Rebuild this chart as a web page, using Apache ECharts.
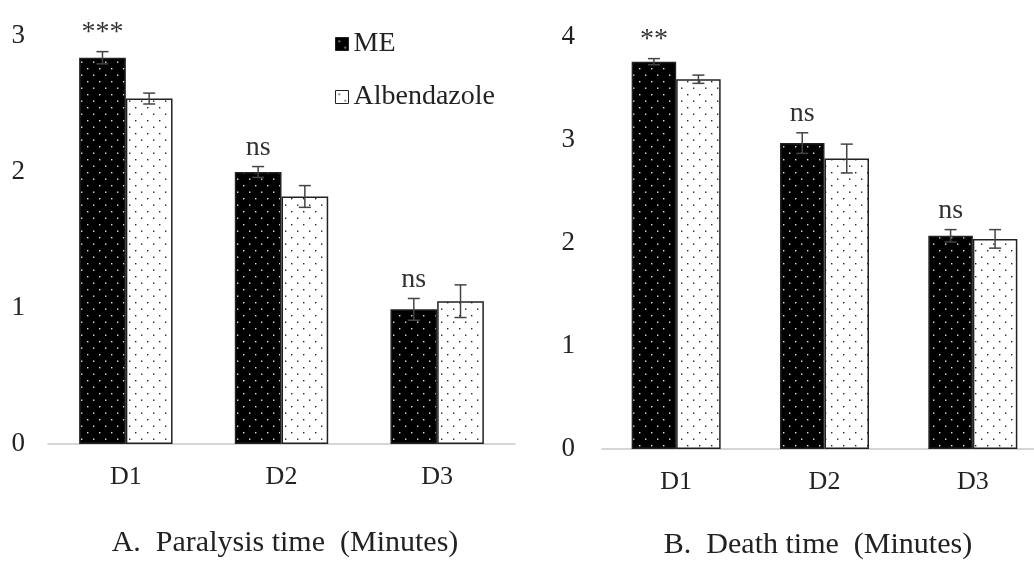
<!DOCTYPE html>
<html><head><meta charset="utf-8">
<script src="https://cdn.jsdelivr.net/npm/echarts@6/dist/echarts.min.js"></script>
<style>html,body{margin:0;padding:0;background:#fff;overflow:hidden}#c{width:1047px;height:561px}</style>
</head><body><div id="c"></div>
<script>
const categories = ['D1', 'D2', 'D3'];
const paralysisME = [2.84, 2.00, 0.99];
const paralysisMEErr = [0.045, 0.04, 0.08];
const paralysisAlb = [2.54, 1.82, 1.05];
const paralysisAlbErr = [0.04, 0.08, 0.12];
const deathME = [3.76, 2.97, 2.07];
const deathMEErr = [0.03, 0.10, 0.06];
const deathAlb = [3.59, 2.82, 2.04];
const deathAlbErr = [0.04, 0.14, 0.09];
const paralysisSig = ['***', 'ns', 'ns'];
const deathSig = ['**', 'ns', 'ns'];
const paralysisTicks = [0, 3];
const deathTicks = [0, 4];

const FONT = '"Liberation Serif", "Times New Roman", serif';

function makePattern(bg, dot) {
  const c = document.createElement('canvas');
  c.width = 12; c.height = 13;
  const g = c.getContext('2d');
  g.fillStyle = bg; g.fillRect(0, 0, 12, 13);
  g.fillStyle = dot;
  g.fillRect(3, 3, 1.4, 1.4);
  g.fillRect(9, 9.5, 1.4, 1.4);
  return c;
}
const mePattern = { image: makePattern('#000', '#e8e8e8'), repeat: 'repeat' };
const albPattern = { image: makePattern('#fff', '#222'), repeat: 'repeat' };

function errSeries(xi, yi, vals, errs, side, sig) {
  return {
    type: 'custom', xAxisIndex: xi, yAxisIndex: yi, silent: true, z: 5,
    data: vals.map((v, i) => [i, v, errs[i]]),
    renderItem: function (params, api) {
      const i = api.value(0), v = api.value(1), e = api.value(2);
      const band = api.size([1, 0])[0];
      const base = api.coord([i, v]);
      const x = base[0] + side * 0.15 * band;
      const top = api.coord([i, v + e])[1];
      const bot = api.coord([i, v - e])[1];
      const w = 6;
      const st = { stroke: '#444', lineWidth: 1.5 };
      const children = [
        { type: 'line', shape: { x1: x, y1: top, x2: x, y2: bot }, style: st },
        { type: 'line', shape: { x1: x - w, y1: top, x2: x + w, y2: top }, style: st },
        { type: 'line', shape: { x1: x - w, y1: bot, x2: x + w, y2: bot }, style: st }
      ];
      if (sig) {
        children.push({ type: 'text', style: { text: sig[params.dataIndex], x: x, y: top - 5,
          textAlign: 'center', textVerticalAlign: 'bottom', font: '28px ' + FONT, fill: '#333' } });
      }
      return { type: 'group', children: children };
    }
  };
}

function barSeries(name, xi, yi, vals, pattern) {
  return {
    name: name, type: 'bar', xAxisIndex: xi, yAxisIndex: yi, data: vals,
    barGap: '0%', barCategoryGap: '40%',
    itemStyle: { color: pattern, borderColor: '#222', borderWidth: 1.5 }
  };
}

const tickStyle = { fontFamily: FONT, fontSize: 27, color: '#222' };
const catStyle = { fontFamily: FONT, fontSize: 26, color: '#222' };

const option = {
  animation: false,
  backgroundColor: '#fff',
  title: [
    { text: 'A.  Paralysis time  (Minutes)', left: 285, top: 528, textAlign: 'center', padding: 0,
      textStyle: { fontFamily: FONT, fontSize: 30, fontWeight: 'normal', color: '#222' } },
    { text: 'B.  Death time  (Minutes)', left: 818, top: 530, textAlign: 'center', padding: 0,
      textStyle: { fontFamily: FONT, fontSize: 30, fontWeight: 'normal', color: '#222' } }
  ],
  legend: {
    left: 335, top: 30, padding: 0, orient: 'vertical', itemGap: 25, itemWidth: 13, itemHeight: 13,
    icon: 'rect', data: ['ME', 'Albendazole'],
    textStyle: { fontFamily: FONT, fontSize: 28, color: '#222' },
    itemStyle: { borderColor: '#222', borderWidth: 1 }
  },
  grid: [
    { left: 48, width: 467, top: 36, bottom: 117 },
    { left: 602, right: 0, top: 37, bottom: 112 }
  ],
  xAxis: [0, 1].map(i => ({
    type: 'category', gridIndex: i, data: categories,
    axisLine: { lineStyle: { color: '#c8c8c8', width: 1.5 } },
    axisTick: { show: false },
    axisLabel: Object.assign({ margin: 20 }, catStyle)
  })),
  yAxis: [
    { type: 'value', gridIndex: 0, min: paralysisTicks[0], max: paralysisTicks[1], interval: 1,
      axisLine: { show: false }, axisTick: { show: false }, splitLine: { show: false },
      axisLabel: Object.assign({ margin: 23 }, tickStyle) },
    { type: 'value', gridIndex: 1, min: deathTicks[0], max: deathTicks[1], interval: 1,
      axisLine: { show: false }, axisTick: { show: false }, splitLine: { show: false },
      axisLabel: Object.assign({ margin: 27 }, tickStyle) }
  ],
  series: [
    barSeries('ME', 0, 0, paralysisME, mePattern),
    barSeries('Albendazole', 0, 0, paralysisAlb, albPattern),
    barSeries('ME', 1, 1, deathME, mePattern),
    barSeries('Albendazole', 1, 1, deathAlb, albPattern),
    errSeries(0, 0, paralysisME, paralysisMEErr, -1, paralysisSig),
    errSeries(0, 0, paralysisAlb, paralysisAlbErr, 1, null),
    errSeries(1, 1, deathME, deathMEErr, -1, deathSig),
    errSeries(1, 1, deathAlb, deathAlbErr, 1, null)
  ]
};
const chart = echarts.init(document.getElementById('c'));
chart.setOption(option);
</script></body></html>
